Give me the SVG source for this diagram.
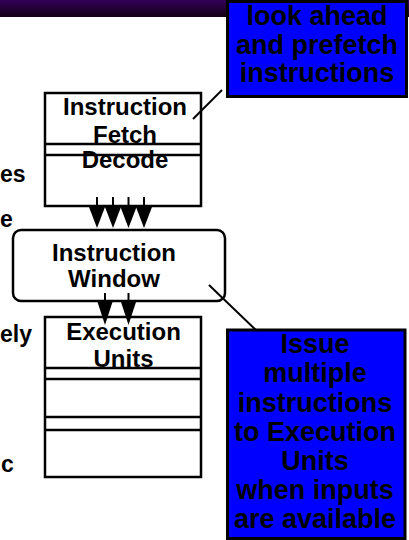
<svg xmlns="http://www.w3.org/2000/svg" width="409" height="540" viewBox="0 0 409 540">
  <defs>
    <linearGradient id="bannerGrad" x1="0" y1="0" x2="0" y2="1">
      <stop offset="0" stop-color="#33005a"/>
      <stop offset="1" stop-color="#120012"/>
    </linearGradient>
  </defs>
  <style>
    text { font-family: "Liberation Sans", Arial, sans-serif; font-weight: bold; fill: #000; }
    .node { font-size: 24px; text-anchor: middle; }
    .note { font-size: 27px; text-anchor: middle; }
    .side { font-size: 23px; text-anchor: start; }
    .box { fill: #fff; stroke: #000; stroke-width: 2.5; }
    .rule { stroke: #000; stroke-width: 2.5; }
    .callout { fill: #0000ff; stroke: #000; stroke-width: 3; }
    .shaft { stroke: #000; stroke-width: 2; }
    .head { fill: #000; }
    .lead { stroke: #000; stroke-width: 2; }
  </style>

  <rect x="0" y="0" width="409" height="17" fill="url(#bannerGrad)"/>

  <!-- word endings at the left margin -->
  <g id="side-text">
    <text class="side" x="0" y="182">es</text>
    <text class="side" x="0" y="227">e</text>
    <text class="side" x="0" y="342">ely</text>
    <text class="side" x="1" y="472">c</text>
  </g>

  <g id="fetch-decode">
    <rect class="box" x="45" y="93" width="156" height="113"/>
    <line class="rule" x1="45" y1="144" x2="201" y2="144"/>
    <line class="rule" x1="45" y1="155" x2="201" y2="155"/>
    <text class="node" x="125" y="115">Instruction</text>
    <text class="node" x="125" y="143">Fetch</text>
    <text class="node" x="125" y="168">Decode</text>
  </g>

  <g id="instruction-window">
    <rect class="box" x="13" y="230" width="212" height="71" rx="8" ry="8"/>
    <text class="node" x="114" y="261">Instruction</text>
    <text class="node" x="114" y="287">Window</text>
  </g>

  <g id="execution-units">
    <rect class="box" x="45" y="317" width="156" height="160"/>
    <line class="rule" x1="45" y1="368" x2="201" y2="368"/>
    <line class="rule" x1="45" y1="379" x2="201" y2="379"/>
    <line class="rule" x1="45" y1="417" x2="201" y2="417"/>
    <line class="rule" x1="45" y1="430" x2="201" y2="430"/>
    <text class="node" x="123.5" y="340">Execution</text>
    <text class="node" x="123.5" y="367">Units</text>
  </g>

  <g id="note-prefetch">
    <rect class="callout" x="227.5" y="1.5" width="179" height="95"/>
    <text class="note" x="317" y="25">look ahead</text>
    <text class="note" x="317" y="54">and prefetch</text>
    <text class="note" x="317" y="82">instructions</text>
  </g>

  <g id="note-issue">
    <rect class="callout" x="227.5" y="330" width="177.5" height="208.5"/>
    <text class="note" x="315" y="353">Issue</text>
    <text class="note" x="315" y="382">multiple</text>
    <text class="note" x="315" y="412">instructions</text>
    <text class="note" x="315" y="441">to Execution</text>
    <text class="note" x="315" y="470">Units</text>
    <text class="note" x="315" y="499">when inputs</text>
    <text class="note" x="315" y="528">are available</text>
  </g>

  <g id="connectors">
    <!-- fetch/decode to window -->
    <line class="shaft" x1="97" y1="197" x2="97" y2="208"/>
    <polygon class="head" points="89,207 105,207 97,228"/>
    <line class="shaft" x1="113" y1="197" x2="113" y2="208"/>
    <polygon class="head" points="105,207 121,207 113,228"/>
    <line class="shaft" x1="128.5" y1="197" x2="128.5" y2="208"/>
    <polygon class="head" points="120.5,207 136.5,207 128.5,228"/>
    <line class="shaft" x1="144" y1="197" x2="144" y2="208"/>
    <polygon class="head" points="136,207 152,207 144,228"/>
    <!-- window to execution units -->
    <line class="shaft" x1="105" y1="293" x2="105" y2="303"/>
    <polygon class="head" points="97.5,302 112.5,302 105,325"/>
    <line class="shaft" x1="128.5" y1="293" x2="128.5" y2="303"/>
    <polygon class="head" points="121,302 136,302 128.5,325"/>
    <!-- callout leaders -->
    <line class="lead" x1="193" y1="119" x2="222" y2="90"/>
    <line class="lead" x1="209" y1="285" x2="257" y2="331"/>
  </g>
</svg>
